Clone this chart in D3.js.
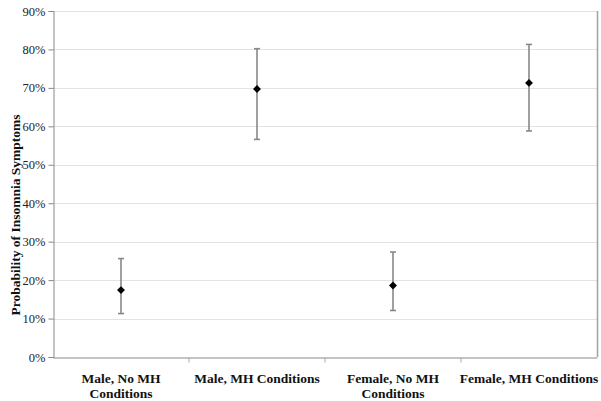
<!DOCTYPE html>
<html>
<head>
<meta charset="utf-8">
<script src="https://cdn.jsdelivr.net/npm/d3@7"></script>
<style>
  body { margin: 0; background: #fff; }
  svg { display: block; }
  svg text { font-family: "Liberation Serif", "Times New Roman", "DejaVu Serif", serif; }
</style>
</head>
<body>
<svg id="chart" width="601" height="401"></svg>
<script>
const categories = ["Male, No MH Conditions", "Male, MH Conditions", "Female, No MH Conditions", "Female, MH Conditions"];
const categoryLines = [["Male, No MH", "Conditions"], ["Male, MH Conditions"], ["Female, No MH", "Conditions"], ["Female, MH Conditions"]];
const estimates = [0.174, 0.697, 0.186, 0.713];
const lowerCI = [0.113, 0.566, 0.121, 0.588];
const upperCI = [0.256, 0.802, 0.273, 0.813];
const yTicks = [0, 0.1, 0.2, 0.3, 0.4, 0.5, 0.6, 0.7, 0.8, 0.9];
const yTitle = "Probability of Insomnia Symptoms";

const svg = d3.select("#chart");
const m = { left: 53, right: 4, top: 11, bottom: 44 };
const W = 601, H = 401;

const x = d3.scaleBand().domain(categories).range([m.left, W - m.right]).padding(0);
const y = d3.scaleLinear().domain([0, 0.9]).range([H - m.bottom, m.top]);

const data = categories.map((c, i) => ({ c, v: estimates[i], lo: lowerCI[i], hi: upperCI[i] }));

// gridlines
svg.append("g").selectAll("line").data(yTicks.filter(t => t > 0)).join("line")
  .attr("x1", m.left).attr("x2", W - m.right)
  .attr("y1", d => Math.round(y(d)) + 0.5).attr("y2", d => Math.round(y(d)) + 0.5)
  .attr("stroke", "#e3e3e3").attr("stroke-width", 1);

// right border
svg.append("line")
  .attr("x1", W - m.right + 0.5).attr("x2", W - m.right + 0.5)
  .attr("y1", m.top).attr("y2", H - m.bottom)
  .attr("stroke", "#a0a0a0").attr("stroke-width", 1.5);

// y axis
const yAxis = d3.axisLeft(y).tickValues(yTicks).tickFormat(d3.format(".0%")).tickSize(5).tickPadding(3);
const gy = svg.append("g").attr("transform", `translate(${m.left + 0.5},0)`).call(yAxis);
gy.attr("font-family", null);
gy.select(".domain").attr("stroke", "#888");
gy.selectAll(".tick line").attr("stroke", "#888");
gy.selectAll(".tick text").style("font-size", "12.5px").attr("fill", "#222");

// x axis
const xAxis = d3.axisBottom(x).tickSize(0).tickFormat("");
const gx = svg.append("g").attr("transform", `translate(0,${H - m.bottom + 0.5})`).call(xAxis);
gx.select(".domain").attr("stroke", "#888");
const seps = categories.slice(1).map(c => x(c));
gx.selectAll(".sep").data(seps).join("line")
  .attr("x1", d => d).attr("x2", d => d).attr("y1", 0).attr("y2", 5)
  .attr("stroke", "#aaa");

// category labels
const lab = svg.append("g").attr("text-anchor", "middle");
categories.forEach((c, i) => {
  const t = lab.append("text").attr("x", x(c) + x.bandwidth() / 2).attr("y", 383)
    .style("font-size", "13.5px").style("font-weight", "bold").attr("fill", "#111");
  categoryLines[i].forEach((ln, j) => {
    t.append("tspan").attr("x", x(c) + x.bandwidth() / 2).attr("dy", j === 0 ? 0 : 15).text(ln);
  });
});

// y title
svg.append("text")
  .attr("transform", `translate(20,215) rotate(-90)`)
  .attr("text-anchor", "middle")
  .style("font-size", "13.5px").style("font-weight", "bold").attr("fill", "#111")
  .text(yTitle);

// error bars
const cx = d => x(d.c) + x.bandwidth() / 2;
const eb = svg.append("g").attr("stroke", "#888").attr("stroke-width", 1.6);
eb.selectAll(".v").data(data).join("line")
  .attr("x1", cx).attr("x2", cx).attr("y1", d => y(d.lo)).attr("y2", d => y(d.hi));
eb.selectAll(".cl").data(data).join("line")
  .attr("x1", d => cx(d) - 3).attr("x2", d => cx(d) + 3).attr("y1", d => y(d.lo)).attr("y2", d => y(d.lo));
eb.selectAll(".ch").data(data).join("line")
  .attr("x1", d => cx(d) - 3).attr("x2", d => cx(d) + 3).attr("y1", d => y(d.hi)).attr("y2", d => y(d.hi));

// diamond markers
svg.append("g").selectAll("path").data(data).join("path")
  .attr("d", d3.symbol().type(d3.symbolDiamond2).size(40))
  .attr("transform", d => `translate(${cx(d)},${y(d.v)})`)
  .attr("fill", "#000");
</script>
</body>
</html>
